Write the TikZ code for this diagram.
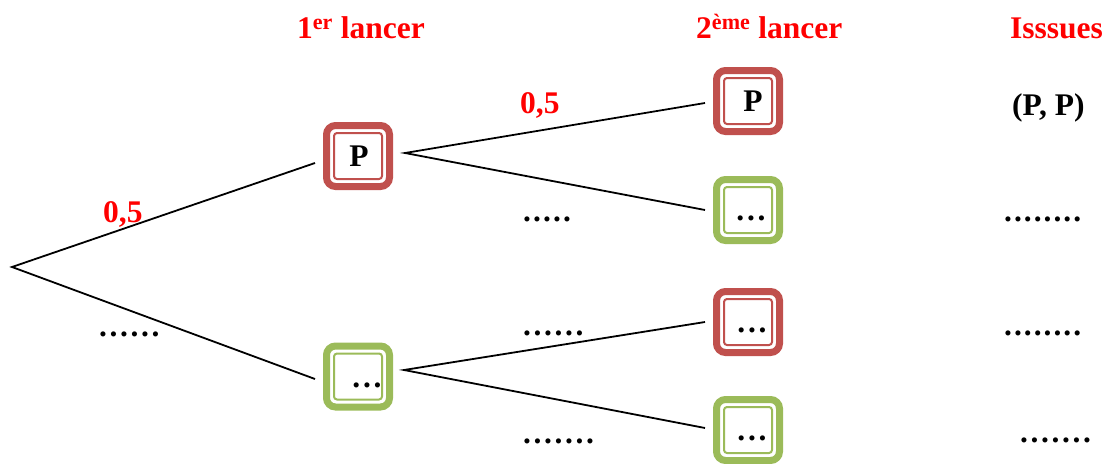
\documentclass[tikz,border=0pt]{standalone}
\usepackage{fontspec}
\setmainfont{Liberation Serif}
\definecolor{boxred}{HTML}{C0504D}
\definecolor{boxgreen}{HTML}{9BBB59}
\definecolor{headred}{HTML}{FF0000}
% a row of n evenly spaced dots, optional gap between dots
\newcount\dotcount
\newcommand{\pointrow}[2][2.6pt]{\begingroup\dotcount=#2\relax
  \loop.\ifnum\dotcount>1 \kern#1\relax\advance\dotcount by -1 \repeat\endgroup}
\tikzset{
  txt/.style={inner sep=0pt, anchor=base west, font=\fontsize{31.5}{38}\selectfont\bfseries},
  head/.style={txt, text=headred},
  prob/.style={txt, text=headred},
  outerbox/.style={draw=#1, line width=7pt, rounded corners=9pt, minimum width=63pt,
    minimum height=61pt, inner sep=0pt, outer sep=0pt},
  innerbox/.style={draw=#1, line width=2pt, rounded corners=3pt},
  boxtext/.style={inner sep=0pt, text height=21pt, text depth=0pt,
    font=\fontsize{31.5}{38}\selectfont\bfseries},
  branch/.style={line width=1.8pt, black},
}
\newcommand{\innerframe}[2]{%
  \draw[innerbox=#2] ([shift={(7.5,7.5)}]#1.north west) rectangle ([shift={(-7.5,-7.5)}]#1.south east);}
\begin{document}
\begin{tikzpicture}[x=1pt,y=-1pt]
\useasboundingbox (0,0) rectangle (1107,463);

% column headers
\node[head] (h1) at (297,38.5) {1\textsuperscript{er} lancer};
\node[head] (h2) at (696,38.5) {2\textsuperscript{ème} lancer};
\node[head] (h3) at (1010,38.5) {Isssues};

% first throw
\node[outerbox=boxred, label={[boxtext, xshift=1pt]center:P}] (A) at (358,156) {};
\node[outerbox=boxgreen, label={[boxtext, xshift=9pt]center:\pointrow[2.8pt]{3}}] (B) at (358,376.5) {};
% second throw
\node[outerbox=boxred, label={[boxtext, xshift=5pt]center:P}] (C) at (748,101) {};
\node[outerbox=boxgreen, label={[boxtext, xshift=3pt]center:\pointrow[2.8pt]{3}}] (D) at (748,210) {};
\node[outerbox=boxred, label={[boxtext, xshift=4pt]center:\pointrow[2.8pt]{3}}] (E) at (748,322) {};
\node[outerbox=boxgreen, label={[boxtext, xshift=4pt]center:\pointrow[2.8pt]{3}}] (F) at (748,430) {};
\innerframe{A}{boxred}
\innerframe{B}{boxgreen}
\innerframe{C}{boxred}
\innerframe{D}{boxgreen}
\innerframe{E}{boxred}
\innerframe{F}{boxgreen}

% branches
\coordinate (root) at (12,267);
\draw[branch] ([shift={(-11.5,7)}]A.west) -- (root) -- ([shift={(-11.5,2.5)}]B.west);
\draw[branch] ([shift={(-11.5,2)}]C.west) -- ([shift={(15.5,-3)}]A.east) -- ([shift={(-11.5,0)}]D.west);
\draw[branch] ([shift={(-11.5,0)}]E.west) -- ([shift={(14.5,-6.5)}]B.east) -- ([shift={(-11.5,-2)}]F.west);

% probabilities
\node[prob] (p1) at (103,222) {0,5};
\node[txt] (q1) at (99,336) {\pointrow{6}};
\node[prob] (p2) at (520,113) {0,5};
\node[txt] (q2) at (523,221) {\pointrow[2.1pt]{5}};
\node[txt] (q3) at (523,335) {\pointrow{6}};
\node[txt] (q4) at (523,443) {\pointrow{7}};

% outcomes
\node[txt] (o1) at (1012,115) {(P, P)};
\node[txt] (o2) at (1004,221) {\pointrow[2.0pt]{8}};
\node[txt] (o3) at (1004,335) {\pointrow[2.0pt]{8}};
\node[txt] (o4) at (1020,442) {\pointrow{7}};
\end{tikzpicture}
\end{document}
